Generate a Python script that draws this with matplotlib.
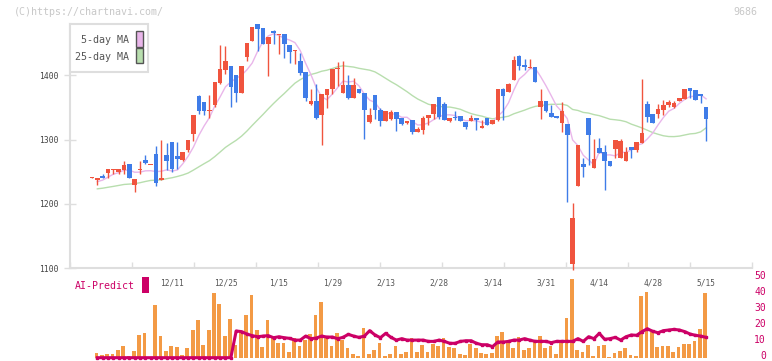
import numpy as np
import pandas as pd
import matplotlib
matplotlib.use("Agg")
from matplotlib import pyplot as plt
from matplotlib.patches import Rectangle
from matplotlib.transforms import blended_transform_factory, offset_copy


# daily candles, index 0 .. 115 (last one = 5/15)
opens = [1241, 1237, 1243, 1248, 1252, 1250, 1253, 1262, 1229, 1253,
         1269, 1260, 1277, 1237, 1276, 1296, 1274, 1268, 1284, 1309,
         1367, 1358, 1345, 1353, 1388, 1408, 1414, 1400, 1373, 1428,
         1453, 1479, 1473, 1449, 1468, 1462, 1464, 1447, 1437, 1422,
         1405, 1356, 1360, 1338, 1369, 1378, 1409, 1373, 1385, 1365,
         1379, 1373, 1328, 1369, 1346, 1329, 1332, 1343, 1333, 1325,
         1330, 1312, 1315, 1334, 1340, 1366, 1355, 1329, 1334, 1336,
         1327, 1329, 1333, 1318, 1333, 1324, 1330, 1378, 1374, 1392,
         1430, 1416, 1411, 1412, 1351, 1360, 1341, 1336, 1326, 1324,
         1106, 1228, 1262, 1333, 1256, 1287, 1280, 1267, 1285, 1272,
         1266, 1288, 1284, 1294, 1355, 1340, 1340, 1346, 1354, 1351,
         1360, 1363, 1380, 1377, 1371, 1350]
highs = [1242, 1241, 1246, 1254, 1254, 1254, 1266, 1262, 1238, 1266,
         1276, 1261, 1290, 1299, 1294, 1296, 1296, 1281, 1300, 1338,
         1369, 1358, 1369, 1389, 1447, 1445, 1414, 1400, 1414, 1450,
         1475, 1479, 1473, 1459, 1470, 1463, 1464, 1447, 1439, 1434,
         1405, 1378, 1386, 1371, 1379, 1409, 1420, 1422, 1400, 1395,
         1379, 1373, 1349, 1369, 1349, 1345, 1346, 1343, 1333, 1329,
         1330, 1320, 1336, 1338, 1355, 1366, 1358, 1334, 1345, 1336,
         1327, 1338, 1333, 1331, 1333, 1330, 1378, 1380, 1388, 1430,
         1431, 1425, 1425, 1412, 1378, 1360, 1353, 1336, 1358, 1324,
         1201, 1292, 1271, 1333, 1301, 1302, 1291, 1267, 1299, 1301,
         1288, 1288, 1296, 1394, 1360, 1340, 1356, 1361, 1361, 1360,
         1365, 1378, 1380, 1377, 1371, 1350]
lows = [1240, 1229, 1240, 1241, 1247, 1247, 1247, 1240, 1219, 1247,
        1262, 1260, 1228, 1237, 1252, 1249, 1255, 1266, 1280, 1298,
        1339, 1338, 1334, 1351, 1387, 1402, 1351, 1359, 1372, 1422,
        1453, 1438, 1448, 1398, 1449, 1433, 1427, 1419, 1418, 1401,
        1360, 1353, 1332, 1292, 1349, 1370, 1383, 1372, 1363, 1365,
        1373, 1301, 1325, 1332, 1321, 1329, 1330, 1314, 1322, 1324,
        1309, 1312, 1308, 1322, 1332, 1332, 1330, 1328, 1330, 1329,
        1317, 1329, 1315, 1318, 1323, 1324, 1329, 1330, 1374, 1392,
        1408, 1408, 1411, 1389, 1332, 1343, 1335, 1333, 1311, 1203,
        1098, 1228, 1242, 1260, 1256, 1279, 1221, 1259, 1271, 1272,
        1266, 1272, 1280, 1294, 1328, 1325, 1333, 1338, 1350, 1349,
        1360, 1363, 1365, 1362, 1357, 1298]
closes = [1242, 1241, 1240, 1254, 1254, 1254, 1260, 1240, 1238, 1255,
          1264, 1261, 1233, 1241, 1266, 1254, 1270, 1281, 1299, 1338,
          1344, 1344, 1346, 1389, 1409, 1422, 1382, 1373, 1414, 1450,
          1475, 1472, 1449, 1459, 1466, 1463, 1449, 1436, 1439, 1404,
          1365, 1360, 1334, 1371, 1379, 1409, 1410, 1385, 1364, 1385,
          1373, 1346, 1338, 1346, 1329, 1345, 1343, 1332, 1324, 1329,
          1312, 1316, 1334, 1338, 1355, 1335, 1330, 1334, 1333, 1329,
          1320, 1333, 1330, 1321, 1323, 1330, 1378, 1368, 1386, 1423,
          1415, 1413, 1413, 1389, 1360, 1344, 1335, 1333, 1344, 1307,
          1178, 1291, 1258, 1307, 1270, 1279, 1266, 1259, 1299, 1297,
          1280, 1284, 1296, 1310, 1335, 1325, 1347, 1354, 1359, 1357,
          1364, 1378, 1376, 1362, 1368, 1332]

# closes before the visible window (estimated, only feed the moving averages)
earlier_closes = [1215, 1218, 1220, 1217, 1222, 1225, 1221, 1219, 1216, 1220,
                  1224, 1226, 1222, 1218, 1220, 1223, 1225, 1222, 1219, 1221,
                  1228, 1231, 1231]

volume = [0, 2.9, 1.7, 2.3, 2.3, 4.8, 7.3, 1.0, 4.4, 14.2,
          15.6, 0, 32.9, 13.5, 4.4, 7.3, 6.5, 1.7, 6.0, 17.3,
          23.5, 7.9, 17.3, 40.6, 33.8, 13.5, 24.2, 7.9, 16.3, 26.7,
          39.2, 17.3, 6.7, 23.5, 12.1, 9.2, 9.2, 3.8, 12.1, 7.5,
          11.0, 14.8, 26.7, 34.8, 12.7, 7.3, 15.4, 11.0, 6.0, 2.3,
          1.0, 18.5, 2.3, 5.0, 9.2, 1.0, 2.3, 7.3, 2.3, 3.5,
          12.3, 3.5, 7.9, 3.5, 8.5, 7.3, 12.3, 6.7, 6.0, 2.3,
          1.7, 8.5, 6.0, 2.9, 2.3, 2.9, 13.5, 16.0, 9.4, 6.0,
          12.9, 4.8, 6.0, 11.0, 13.5, 6.0, 7.3, 2.3, 9.8, 24.8,
          49.2, 4.8, 3.5, 7.9, 1.0, 7.3, 7.9, 0.4, 2.9, 4.2,
          6.0, 1.7, 1.0, 38.5, 41.0, 16.0, 6.7, 7.3, 7.3, 3.5,
          6.7, 8.5, 8.5, 10.4, 17.9, 40.4]

ai_predict = [np.nan, 0, 0, 0, 0, 0, 0, 0, 0, 0,
              0, 0, 0, 0, 0, 0, 0, 0, 0, 0,
              0, 0, 0, 0, 0, 0, 0, 16.7, 16.3, 14.8,
              13.8, 13.1, 13.5, 13.8, 12.5, 13.1, 12.5, 12.1, 11.0, 11.0,
              13.5, 11.9, 12.3, 13.5, 12.9, 12.9, 11.9, 12.7, 14.6, 13.5,
              12.7, 13.5, 16.9, 14.2, 12.5, 15.2, 12.7, 11.0, 11.9, 11.0,
              11.0, 11.0, 11.0, 10.2, 10.2, 11.0, 10.2, 9.0, 9.0, 10.2,
              10.6, 10.6, 9.0, 8.1, 8.1, 6.9, 9.8, 9.8, 10.2, 11.0,
              11.0, 11.9, 11.0, 10.2, 10.2, 10.2, 9.4, 10.2, 10.2, 10.2,
              10.2, 11.9, 10.2, 13.1, 11.9, 15.2, 11.5, 11.9, 12.7, 11.0,
              13.1, 14.2, 14.0, 16.3, 18.1, 16.5, 15.6, 16.9, 17.3, 17.7,
              17.3, 16.3, 14.8, 14.0, 13.5, 12.7]

date_labels = ["12/11", "12/25", "1/15", "1/29", "2/13", "2/28",
               "3/14", "3/31", "4/14", "4/28", "5/15"]
date_label_idx = [15, 25, 35, 45, 55, 65, 75, 85, 95, 105, 115]

price_ticks = [1100, 1200, 1300, 1400]
ai_ticks = [0, 10, 20, 30, 40, 50]

UP = "#f0543e"
DOWN = "#3f7ce8"
MA5_COLOR = "#e9b6ea"
MA25_COLOR = "#b8deae"
VOL_COLOR = "#f39a45"
AI_COLOR = "#cc0066"
GRID = "#dedede"
MONO = "DejaVu Sans Mono"

W, H = 772, 361
fig = plt.figure(figsize=(W / 100, H / 100), dpi=100)


def fx(px):
    return px / W


def fy(py):
    return 1 - py / H


def px_axes(left, top, right, bottom):
    return fig.add_axes([fx(left), fy(bottom), (right - left) / W, (bottom - top) / H])


ax = px_axes(70, 24, 752, 268.3)
axv = px_axes(70, 277.7, 752, 357.7)

idx = np.arange(len(closes))
xlim = (-4.12, 123.6)

# candles
for i in idx:
    o, h, l, c = opens[i], highs[i], lows[i], closes[i]
    col = UP if c >= o else DOWN
    ax.vlines(i, l, h, color=col, linewidth=1, zorder=3, clip_on=False)
    body = max(abs(c - o), 1.6)
    ax.bar(i, body, bottom=min(o, c), width=0.86, color=col, linewidth=0, zorder=4)

# moving averages
all_close = pd.Series(earlier_closes + closes, dtype=float)
ma5 = all_close.rolling(5).mean().to_numpy()[len(earlier_closes):]
ma25 = all_close.rolling(25).mean().to_numpy()[len(earlier_closes):]
ax.plot(idx[1:], ma25[1:], color=MA25_COLOR, linewidth=1, zorder=2)
ax.plot(idx[1:], ma5[1:], color=MA5_COLOR, linewidth=1, zorder=2)

ax.set_xlim(*xlim)
ax.set_ylim(1100, 1479.5)
ax.set_yticks(price_ticks)
ax.set_yticklabels([str(t) for t in price_ticks], fontsize=5.8, color="#444", family=MONO)
ax.tick_params(axis="y", direction="inout", length=8, width=1, color=GRID, pad=4)
ax.set_xticks(date_label_idx)
ax.set_xticklabels(date_labels, fontsize=5.7, color="#555", family=MONO)
ax.tick_params(axis="x", which="major", length=0, pad=7)
ax.set_xticks([xlim[0] + k * (xlim[1] - xlim[0]) / 11 for k in range(12)], minor=True)
ax.tick_params(axis="x", which="minor", direction="in", length=4, width=1, color=GRID)
for side in ["top", "right"]:
    ax.spines[side].set_visible(False)
for side in ["left", "bottom"]:
    ax.spines[side].set_color(GRID)
    ax.spines[side].set_linewidth(1.5)

# volume + AI-predict panel
axv.bar(idx - 0.15, volume, width=0.7, color=VOL_COLOR, linewidth=0, zorder=2)
axv.plot(idx, ai_predict, color=AI_COLOR, linewidth=2.2, marker="s", markersize=2,
         zorder=3, clip_on=False)
axv.set_xlim(*xlim)
axv.set_ylim(0, 50)
axv.set_xticks([])
axv.set_yticks([])
for s in axv.spines.values():
    s.set_visible(False)
axv.patch.set_alpha(0)

# right-hand scale labels, nudged up a little so the 0 stays inside the image
label_tf = offset_copy(blended_transform_factory(axv.transAxes, axv.transData),
                       fig=fig, x=14, y=1.5, units="dots")
for t in ai_ticks:
    axv.text(1.0, t, str(t), transform=label_tf, ha="right", va="center",
             fontsize=7, color=AI_COLOR, family=MONO, clip_on=False)

# legend box
fig.add_artist(Rectangle((fx(70), fy(72)), 78 / W, 48 / H, transform=fig.transFigure,
                         facecolor="white", edgecolor=GRID, linewidth=1.5, zorder=5))
fig.add_artist(Rectangle((fx(136), fy(47)), 7 / W, 16 / H, transform=fig.transFigure,
                         facecolor=MA5_COLOR, edgecolor="#555", linewidth=1, zorder=6))
fig.add_artist(Rectangle((fx(136), fy(63)), 7 / W, 15 / H, transform=fig.transFigure,
                         facecolor=MA25_COLOR, edgecolor="#555", linewidth=1, zorder=6))
fig.text(fx(129), fy(40), "5-day MA", ha="right", va="center", fontsize=7.2,
         color="#555", family=MONO, zorder=6)
fig.text(fx(129), fy(57), "25-day MA", ha="right", va="center", fontsize=7.2,
         color="#555", family=MONO, zorder=6)

# AI-Predict label
fig.text(fx(75), fy(286), "AI-Predict", ha="left", va="center", fontsize=7.1,
         color=AI_COLOR, family=MONO)
fig.add_artist(Rectangle((fx(142), fy(293)), 7 / W, 16 / H, transform=fig.transFigure,
                         facecolor=AI_COLOR, edgecolor="none"))

# watermark and code
fig.text(fx(14), fy(12), "(C)https://chartnavi.com/", ha="left", va="center",
         fontsize=7.2, color="#c8c8c8", family=MONO)
fig.text(fx(757), fy(12), "9686", ha="right", va="center", fontsize=7.2,
         color="#c8c8c8", family=MONO)

fig.savefig("out.png", dpi=100, facecolor="white")
